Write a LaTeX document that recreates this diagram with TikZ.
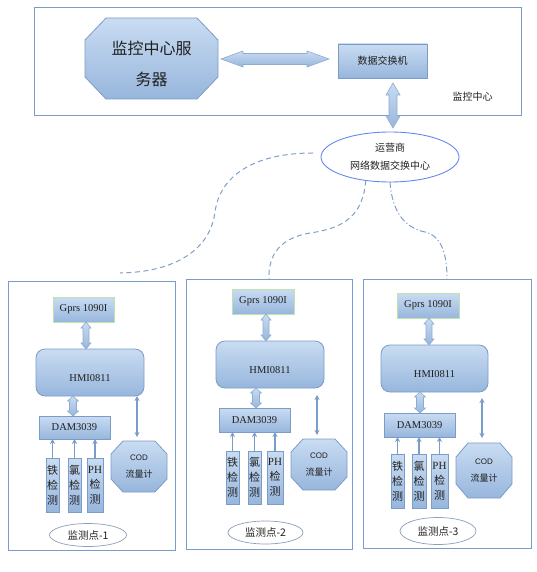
\documentclass[tikz,border=0pt]{standalone}
\usepackage{fontspec}
\setmainfont{Liberation Serif}
\setsansfont{Liberation Sans}
\newfontfamily\cjk{Noto Sans CJK SC}
\usetikzlibrary{calc,arrows.meta,backgrounds,shapes.geometric}
\definecolor{bord}{HTML}{7B9CC8}
\definecolor{gtop}{HTML}{C9DCF2}
\definecolor{gbot}{HTML}{97B6DC}
\definecolor{gprsb}{HTML}{BFE3AE}
\definecolor{hubb}{HTML}{6688EE}
\definecolor{dashc}{HTML}{7F9FC8}
\definecolor{ptb}{HTML}{8C9FB8}
\definecolor{txt}{HTML}{202020}
% octagon around a (text-less) node: #1 node, #2 horizontal cut, #3 vertical cut
\newcommand\octdraw[3]{%
 \path[grad] ($(#1.north west)+(#2,0)$) -- ($(#1.north east)+(-#2,0)$) -- ($(#1.north east)+(0,#3)$) -- ($(#1.south east)+(0,-#3)$) -- ($(#1.south east)+(-#2,0)$) -- ($(#1.south west)+(#2,0)$) -- ($(#1.south west)+(0,-#3)$) -- ($(#1.north west)+(0,#3)$) -- cycle;}
% vertical block double arrow: #1 top, #2 bottom, #3 head half width, #4 shaft half width, #5 head length
\newcommand\vdblarrow[5]{%
 \path[blockarrow] let \p1=#1, \p2=#2 in
 (\x1,\y1) -- (\x1+#3pt,\y1-#5pt) -- (\x1+#4pt,\y1-#5pt) -- (\x1+#4pt,\y2+#5pt) -- (\x1+#3pt,\y2+#5pt) -- (\x1,\y2) -- (\x1-#3pt,\y2+#5pt) -- (\x1-#4pt,\y2+#5pt) -- (\x1-#4pt,\y1-#5pt) -- (\x1-#3pt,\y1-#5pt) -- cycle;}
% horizontal block double arrow: #1 left, #2 right
\newcommand\hdblarrow[5]{%
 \path[blockarrow] let \p1=#1, \p2=#2 in
 (\x1,\y1) -- (\x1+#5pt,\y1+#3pt) -- (\x1+#5pt,\y1+#4pt) -- (\x2-#5pt,\y1+#4pt) -- (\x2-#5pt,\y1+#3pt) -- (\x2,\y1) -- (\x2-#5pt,\y1-#3pt) -- (\x2-#5pt,\y1-#4pt) -- (\x1+#5pt,\y1-#4pt) -- (\x1+#5pt,\y1-#3pt) -- cycle;}
\begin{document}
\begin{tikzpicture}[x=1pt,y=-1pt,
 every node/.style={inner sep=0pt,outer sep=0pt,text=txt},
 sz/.style n args={2}{minimum width=#1pt,minimum height=#2pt},
 grad/.style={top color=gtop,bottom color=gbot,draw=bord,line width=0.8pt},
 panel/.style={draw=bord,line width=1pt},
 box/.style={grad},
 gprsbox/.style={grad,draw=gprsb,font=\fontsize{10.5}{12}\selectfont},
 hmibox/.style={grad,rounded corners=9pt},
 dambox/.style={grad,font=\fontsize{10.5}{12}\selectfont},
 sensor/.style={grad,align=center,font=\cjk\fontsize{11}{15}\selectfont},
 codtext/.style={align=center,font=\cjk\fontsize{9}{17}\selectfont},
 pt/.style={ellipse,draw=ptb,fill=white,line width=0.7pt,font=\cjk\fontsize{10.5}{12}\selectfont},
 blockarrow/.style={top color=gtop,bottom color=gbot,draw=bord!85,line width=0.6pt},
 thinarr/.style={draw=bord,line width=1.3pt,{Stealth[length=5pt,width=5pt]}-{Stealth[length=5pt,width=5pt]}},
 uparr/.style={draw=bord,line width=1.3pt,-{Stealth[length=5pt,width=5pt]}},
 dashcurve/.style={draw=dashc,line width=1pt,dash pattern=on 5pt off 3.5pt},
 dotcurve/.style={draw=dashc,line width=1pt,dash pattern=on 6pt off 2.5pt on 1.2pt off 2.5pt},
 cjktext/.style={font=\cjk\fontsize{10}{12}\selectfont}
]
\useasboundingbox (0,0) rectangle (536,572);

% ---------- monitoring centre ----------
\node[panel,sz={487}{108}] (top) at (277.5,62) {};
\node[sz={133}{81}] (srv) at (151.5,58.5) {};
\begin{pgfonlayer}{background}\octdraw{srv}{21}{22}\end{pgfonlayer}
\node[align=center,font=\cjk\fontsize{16}{31}\selectfont] (srvt) at ($(srv)+(0,5)$) {监控中心服\\务器};
\node[box,sz={89}{34},cjktext] (sw) at (382.5,61) {数据交换机};
\node[cjktext] (mclabel) at (472.5,97) {监控中心};
\hdblarrow{($(srv.east)+(3,0.5)$)}{($(sw.west)+(-9,0)$)}{8}{5.5}{22}

% ---------- operator hub ----------
\node[ellipse,draw=hubb,fill=white,line width=0.9pt,sz={138}{50},align=center,font=\cjk\fontsize{10}{18}\selectfont] (hub) at (390,157) {运营商\\网络数据交换中心};
\vdblarrow{($(sw.south -| hub.north)+(3,5)$)}{($(hub.north)+(3,-4)$)}{7}{4}{12}

% dashed links
\coordinate (c1s) at ($(hub.west)+(-8,-4)$);
\coordinate (c1e) at (120,273);
\coordinate (c2e) at (269,279);
\coordinate (c3e) at (447,279);
\draw[dashcurve] (c1s) .. controls (255,153) and (220,175) .. (215,212) .. controls (210,250) and (175,272) .. (c1e);
\draw[dashcurve] (hub.224) .. controls (363,215) and (345,228) .. (310,233) .. controls (280,238) and (268,255) .. (c2e);
\draw[dotcurve] (hub.south) .. controls (392,212) and (405,228) .. (425,232) .. controls (442,236) and (447,255) .. (c3e);

% ---------- station 1 ----------
\node[panel,sz={167}{269}] (p1) at (91.5,415.5) {};
\node[gprsbox,sz={61}{25}] (gprs1) at (83.5,309.5) {Gprs 1090I};
\node[hmibox,sz={108}{47}] (hmi1) at (90,372.5) {};
\node[font=\fontsize{10.5}{12}\selectfont] (hmi1t) at ($(hmi1)+(0,6)$) {HMI0811};
\node[dambox,sz={71}{23}] (dam1) at (74.5,427.5) {DAM3039};
\node[sensor,sz={13}{54}] (s1a) at (52.5,485) {铁\\检\\测};
\node[sensor,sz={13}{54}] (s1b) at (74.5,485) {氯\\检\\测};
\node[sensor,sz={16}{54}] (s1c) at (95,485) {{\rmfamily PH}\\检\\测};
\node[sz={56}{51}] (cod1) at (139,466.5) {};
\begin{pgfonlayer}{background}\octdraw{cod1}{12}{13}\end{pgfonlayer}
\node[codtext] (cod1t) at (cod1) {{\sffamily\fontsize{8}{10}\selectfont COD}\\流量计};
\node[pt,sz={77}{23}] (pt1) at (88,535) {监测点-1};
\vdblarrow{($(gprs1.south)+(2.5,0)$)}{($(gprs1.south |- hmi1.north)+(2.5,0)$)}{5}{3}{6}
\vdblarrow{($(dam1.north |- hmi1.south)+(-1.5,0)$)}{($(dam1.north)+(-1.5,0)$)}{5.5}{3.5}{5}
\foreach \s in {s1a,s1b,s1c} \draw[uparr] (\s.north) -- (\s.north |- dam1.south);
\draw[thinarr] ($(cod1.north)+(-2,-4)$) -- ($(cod1.north |- hmi1.south)+(-2,0)$);

% ---------- station 2 ----------
\node[panel,sz={166}{270}] (p2) at (269,414) {};
\node[gprsbox,sz={62}{25}] (gprs2) at (263,301.5) {Gprs 1090I};
\node[hmibox,sz={108}{47}] (hmi2) at (270,364.5) {};
\node[font=\fontsize{10.5}{12}\selectfont] (hmi2t) at ($(hmi2)+(0,6)$) {HMI0811};
\node[dambox,sz={71}{24}] (dam2) at (254.5,420) {DAM3039};
\node[sensor,sz={13}{53}] (s2a) at (232.5,477.5) {铁\\检\\测};
\node[sensor,sz={13}{53}] (s2b) at (254.5,477.5) {氯\\检\\测};
\node[sensor,sz={16}{53}] (s2c) at (275,477.5) {{\rmfamily PH}\\检\\测};
\node[sz={56}{51}] (cod2) at (319,464.5) {};
\begin{pgfonlayer}{background}\octdraw{cod2}{12}{13}\end{pgfonlayer}
\node[codtext] (cod2t) at (cod2) {{\sffamily\fontsize{8}{10}\selectfont COD}\\流量计};
\node[pt,sz={75}{23}] (pt2) at (265.5,532.5) {监测点-2};
\vdblarrow{($(gprs2.south)+(3,0)$)}{($(gprs2.south |- hmi2.north)+(3,0)$)}{5}{3}{6}
\vdblarrow{($(dam2.north |- hmi2.south)+(1.5,0)$)}{($(dam2.north)+(1.5,0)$)}{5.5}{3.5}{5}
\foreach \s in {s2a,s2b,s2c} \draw[uparr] (\s.north) -- (\s.north |- dam2.south);
\draw[thinarr] ($(cod2.north)+(-2,-4)$) -- ($(cod2.north |- hmi2.south)+(-2,7)$);

% ---------- station 3 ----------
\node[panel,sz={168}{269}] (p3) at (447,413.5) {};
\node[gprsbox,sz={62}{25}] (gprs3) at (428,305.5) {Gprs 1090I};
\node[hmibox,sz={107}{47}] (hmi3) at (434.5,368.5) {};
\node[font=\fontsize{10.5}{12}\selectfont] (hmi3t) at ($(hmi3)+(0,6)$) {HMI0811};
\node[dambox,sz={71}{24}] (dam3) at (419.5,425) {DAM3039};
\node[sensor,sz={13}{54}] (s3a) at (397.5,481) {铁\\检\\测};
\node[sensor,sz={14}{54}] (s3b) at (419,481) {氯\\检\\测};
\node[sensor,sz={17}{54}] (s3c) at (439.5,481) {{\rmfamily PH}\\检\\测};
\node[sz={56}{55}] (cod3) at (484,470.5) {};
\begin{pgfonlayer}{background}\octdraw{cod3}{12}{14}\end{pgfonlayer}
\node[codtext] (cod3t) at (cod3) {{\sffamily\fontsize{8}{10}\selectfont COD}\\流量计};
\node[pt,sz={76}{27}] (pt3) at (438,531) {监测点-3};
\vdblarrow{($(gprs3.south)+(1,0)$)}{($(gprs3.south |- hmi3.north)+(1,0)$)}{5}{3}{6}
\vdblarrow{($(dam3.north |- hmi3.south)+(0.5,0)$)}{($(dam3.north)+(0.5,0)$)}{5.5}{3.5}{5}
\foreach \s in {s3a,s3b,s3c} \draw[uparr] (\s.north) -- (\s.north |- dam3.south);
\draw[thinarr] ($(cod3.north)+(-2,-5)$) -- ($(cod3.north |- hmi3.south)+(-2,6)$);
\end{tikzpicture}
\end{document}
